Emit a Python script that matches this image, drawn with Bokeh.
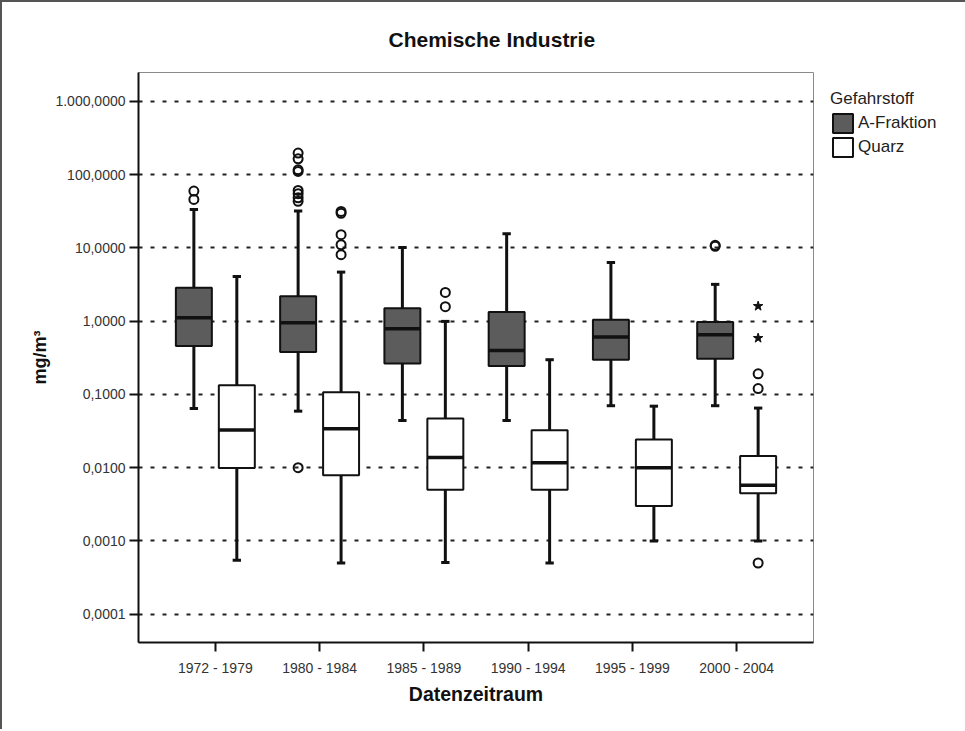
from bokeh.plotting import figure
from bokeh.models import (FactorRange, Range1d, FixedTicker, Legend, LegendItem,
                          ColumnDataSource)
from bokeh.transform import dodge
from bokeh.embed import file_html
from bokeh.resources import INLINE

# ---------------- data ----------------
categories = ["1972 - 1979", "1980 - 1984", "1985 - 1989",
              "1990 - 1994", "1995 - 1999", "2000 - 2004"]

# A-Fraktion
a_lower = [0.064, 0.059, 0.044, 0.044, 0.070, 0.070]
a_q1 = [0.456, 0.378, 0.263, 0.243, 0.297, 0.307]
a_median = [1.11, 0.95, 0.787, 0.398, 0.605, 0.65]
a_q3 = [2.86, 2.19, 1.50, 1.33, 1.045, 0.97]
a_upper = [33.4, 31.8, 10.1, 15.6, 6.3, 3.17]
a_out_cat = ["1972 - 1979", "1972 - 1979",
             "1980 - 1984", "1980 - 1984", "1980 - 1984", "1980 - 1984",
             "1980 - 1984", "1980 - 1984", "1980 - 1984", "1980 - 1984",
             "1980 - 1984",
             "2000 - 2004", "2000 - 2004"]
a_out_val = [59.4, 45.7,
             196, 164, 116, 110, 60.7, 54.7, 48.2, 43,
             0.01,
             10.8, 10.5]

# Quarz
q_lower = [0.000543, 0.0005, 0.000506, 0.0005, 0.001, 0.001]
q_q1 = [0.0099, 0.00785, 0.005, 0.005, 0.003, 0.00449]
q_median = [0.0326, 0.034, 0.0138, 0.0117, 0.01, 0.00575]
q_q3 = [0.133, 0.107, 0.0467, 0.0323, 0.0243, 0.0144]
q_upper = [4.07, 4.66, 0.99, 0.297, 0.069, 0.065]
q_out_cat = ["1980 - 1984", "1980 - 1984", "1980 - 1984", "1980 - 1984", "1980 - 1984",
             "1985 - 1989", "1985 - 1989",
             "2000 - 2004", "2000 - 2004", "2000 - 2004"]
q_out_val = [31.4, 29.6, 15.1, 11.0, 8.05,
             2.46, 1.57,
             0.191, 0.12, 0.0005]
q_ext_cat = ["2000 - 2004", "2000 - 2004"]
q_ext_val = [1.60, 0.586]

y_tick_values = [0.0001, 0.001, 0.01, 0.1, 1, 10, 100, 1000]
y_tick_labels = ["0,0001", "0,0010", "0,0100", "0,1000", "1,0000",
                 "10,0000", "100,0000", "1.000,0000"]

series_names = ["A-Fraktion", "Quarz"]
title_text = "Chemische Industrie"
x_label = "Datenzeitraum"
y_label = "mg/m³"
legend_title = "Gefahrstoff"

# ---------------- styling ----------------
FONT = "Liberation Sans"
INK = "#111111"
DARK_FILL = "#5c5c5c"
OFF = 0.206
BOX_W = 0.345
CAP_W = 0.08

p = figure(frame_width=675, frame_height=570,
           x_range=FactorRange(factors=categories, range_padding=0.079),
           y_range=Range1d(10 ** -4.386, 10 ** 3.392),
           y_axis_type="log",
           output_backend="svg", toolbar_location=None,
           min_border_left=136, min_border_top=70,
           min_border_right=148, min_border_bottom=87)

p.styles = {"border-top": "2px solid #555", "border-left": "2px solid #555",
            "border-right": "2px solid #555"}

p.title.text = title_text
p.title.text_font = FONT
p.title.text_font_size = "21px"
p.title.text_font_style = "bold"
p.title.text_color = INK
p.title.align = "left"
p.title.offset = 250
p.title.standoff = 44

p.outline_line_color = "#8a8a8a"
p.outline_line_width = 1
p.background_fill_color = "white"
p.border_fill_color = "white"

# grid
ticker = FixedTicker(ticks=y_tick_values, minor_ticks=[])
p.yaxis.ticker = ticker
p.ygrid.ticker = ticker
p.ygrid.grid_line_color = "#222222"
p.ygrid.grid_line_dash = "4 8"
p.ygrid.grid_line_width = 2
p.xgrid.grid_line_color = None

# axes
for ax in (p.xaxis[0], p.yaxis[0]):
    ax.axis_line_color = INK
    ax.axis_line_width = 2
    ax.major_tick_line_color = INK
    ax.major_tick_line_width = 2
    ax.major_tick_out = 9
    ax.major_tick_in = 0
    ax.minor_tick_line_color = None
    ax.major_label_text_font = FONT
    ax.major_label_text_font_size = "14px"
    ax.major_label_text_color = "#333333"
    ax.axis_label_text_font = FONT
    ax.axis_label_text_font_style = "bold"
    ax.axis_label_text_color = INK

p.yaxis.major_label_overrides = dict(zip(y_tick_values, y_tick_labels))
p.yaxis.major_label_standoff = 4
p.yaxis.axis_label = y_label
p.yaxis.axis_label_text_font_size = "18px"
p.yaxis.axis_label_standoff = 2
p.xaxis.major_label_standoff = 8
p.xaxis.axis_label = x_label
p.xaxis.axis_label_text_font_size = "19.5px"
p.xaxis.axis_label_standoff = 4


def draw_series(lower, q1, med, q3, upper, off, fill):
    src = ColumnDataSource(dict(cat=categories, lower=lower, q1=q1,
                                med=med, q3=q3, upper=upper))
    xc = dodge("cat", off, range=p.x_range)
    xl = dodge("cat", off - CAP_W / 2, range=p.x_range)
    xr = dodge("cat", off + CAP_W / 2, range=p.x_range)
    p.segment(x0=xc, x1=xc, y0="q3", y1="upper", source=src,
              line_color=INK, line_width=3)
    p.segment(x0=xc, x1=xc, y0="q1", y1="lower", source=src,
              line_color=INK, line_width=3)
    p.segment(x0=xl, x1=xr, y0="upper", y1="upper", source=src,
              line_color=INK, line_width=3)
    p.segment(x0=xl, x1=xr, y0="lower", y1="lower", source=src,
              line_color=INK, line_width=3)
    box = p.vbar(x=xc, width=BOX_W, bottom="q1", top="q3", source=src,
                 fill_color=fill, line_color=INK, line_width=2)
    p.segment(x0=dodge("cat", off - BOX_W / 2, range=p.x_range),
              x1=dodge("cat", off + BOX_W / 2, range=p.x_range),
              y0="med", y1="med", source=src, line_color=INK, line_width=3.5)
    return box


box_a = draw_series(a_lower, a_q1, a_median, a_q3, a_upper, -OFF, DARK_FILL)
box_q = draw_series(q_lower, q_q1, q_median, q_q3, q_upper, OFF, "white")

src_ao = ColumnDataSource(dict(cat=a_out_cat, val=a_out_val))
p.scatter(x=dodge("cat", -OFF, range=p.x_range), y="val", source=src_ao,
          marker="circle", size=9, fill_color=None, line_color=INK, line_width=2)
src_qo = ColumnDataSource(dict(cat=q_out_cat, val=q_out_val))
p.scatter(x=dodge("cat", OFF, range=p.x_range), y="val", source=src_qo,
          marker="circle", size=9, fill_color=None, line_color=INK, line_width=2)
src_qe = ColumnDataSource(dict(cat=q_ext_cat, val=q_ext_val))
p.scatter(x=dodge("cat", OFF, range=p.x_range), y="val", source=src_qe,
          marker="star", size=10, fill_color=INK, line_color=INK, line_width=1)

legend = Legend(items=[LegendItem(label=series_names[0], renderers=[box_a]),
                       LegendItem(label=series_names[1], renderers=[box_q])],
                title=legend_title, location="top_left",
                margin=17, padding=10, spacing=0,
                glyph_width=25, glyph_height=24, label_height=20,
                label_standoff=3, title_standoff=2,
                label_text_font=FONT, label_text_font_size="17px",
                label_text_color="#222222",
                title_text_font=FONT, title_text_font_size="17px",
                title_text_font_style="normal", title_text_color="#222222",
                border_line_color=None, background_fill_alpha=0)
p.add_layout(legend, "right")

open("out.html", "w").write(file_html(p, INLINE))
